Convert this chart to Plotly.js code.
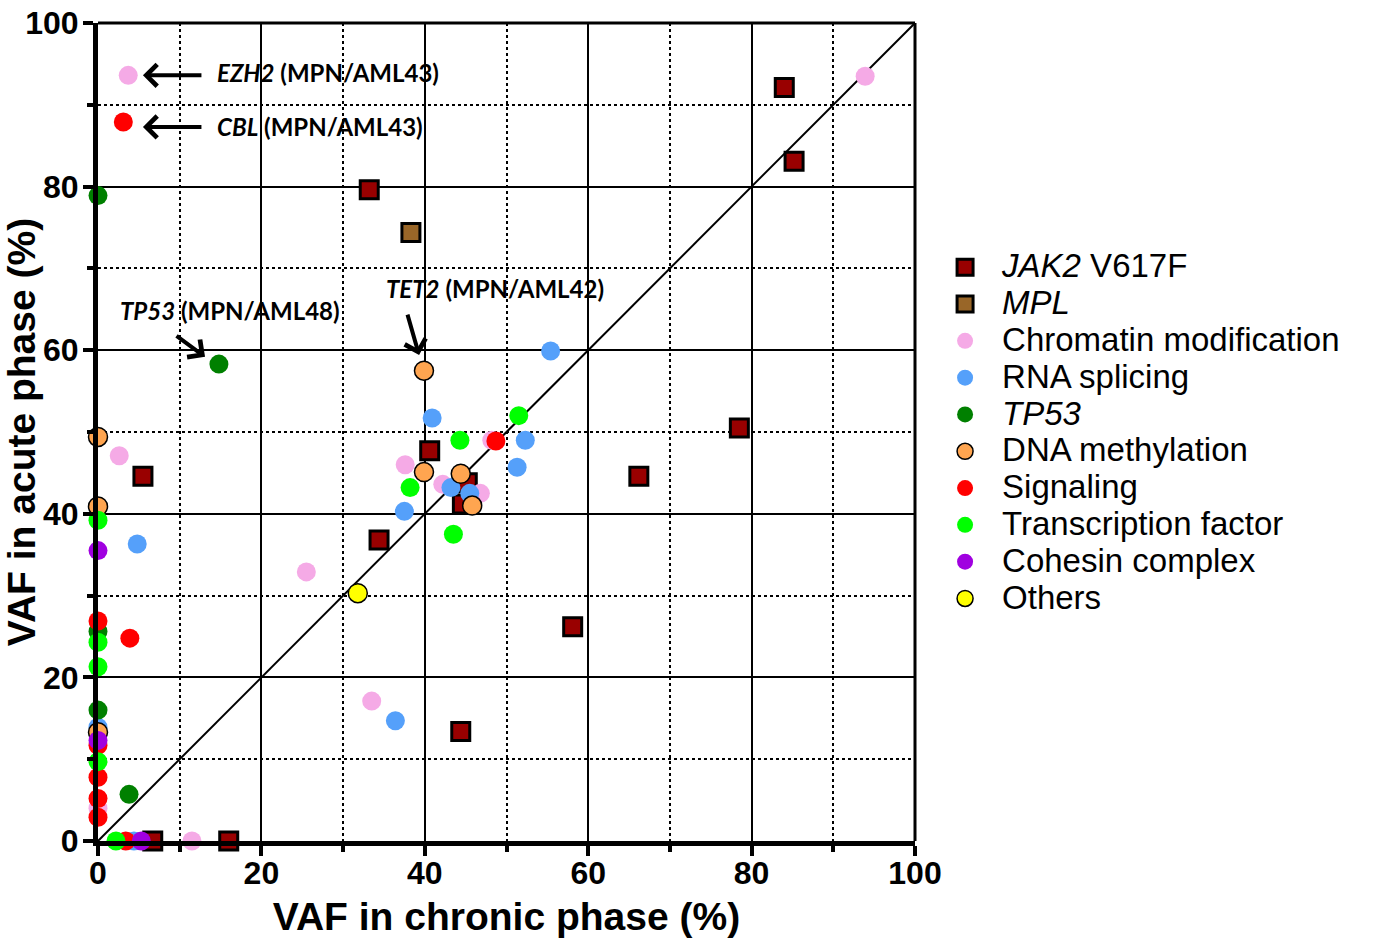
<!DOCTYPE html>
<html>
<head>
<meta charset="utf-8">
<script src="https://cdn.plot.ly/plotly-3.0.1.min.js"></script>
<style>html,body{margin:0;padding:0;background:#fff;}#chart{width:1376px;height:938px;}</style>
</head>
<body>
<div id="chart"></div>
<script>
// ---- data (VAF %, chronic phase -> acute phase) ----
const jak2X = [84.0, 85.2, 33.2, 5.5, 40.6, 34.4, 78.5, 66.2, 58.1, 44.4, 45.2, 44.6, 6.7, 16.0];
const jak2Y = [92.1, 83.1, 79.6, 44.6, 47.7, 36.8, 50.5, 44.6, 26.2, 13.4, 43.8, 41.2, 0, 0];
const mplX = [38.3];
const mplY = [74.4];
const chromX = [3.7, 93.9, 2.6, 25.5, 37.6, 33.5, 42.2, 46.8, 48.2, 11.5, 0];
const chromY = [93.6, 93.5, 47.1, 32.9, 46.0, 17.1, 43.6, 42.5, 49.0, 0, 4.0];
const rnaX = [55.4, 40.9, 51.3, 52.3, 37.5, 43.2, 45.5, 4.8, 36.4, 4.4, 0];
const rnaY = [59.9, 51.7, 45.7, 49.0, 40.3, 43.2, 42.5, 36.3, 14.7, 0, 13.9];
const tp53X = [0, 14.8, 0, 3.8, 0];
const tp53Y = [78.9, 58.3, 16.0, 5.7, 25.6];
const dnaX = [0, 0, 39.9, 39.9, 44.4, 45.8, 0];
const dnaY = [49.4, 40.9, 57.5, 45.1, 44.9, 41.0, 13.3];
const sigX = [3.1, 48.7, 3.9, 0, 0, 0, 0, 0, 3.4];
const sigY = [87.9, 48.9, 24.8, 26.9, 11.7, 7.8, 5.2, 2.9, 0];
const tfX = [44.3, 51.5, 38.2, 43.5, 0, 0, 0, 0, 2.2];
const tfY = [49.0, 52.0, 43.2, 37.5, 39.2, 24.3, 21.3, 9.7, 0];
const cohX = [0, 0, 5.3];
const cohY = [35.5, 12.3, 0];
const othX = [31.8];
const othY = [30.3];

const seriesNames = ['<i>JAK2</i> V617F', '<i>MPL</i>', 'Chromatin modification', 'RNA splicing',
  '<i>TP53</i>', 'DNA methylation', 'Signaling', 'Transcription factor', 'Cohesin complex', 'Others'];
const tickVals = [0, 20, 40, 60, 80, 100];
const tickText = ['0', '20', '40', '60', '80', '100'];

// ---- styling ----
const legendSpan = s => '<span style="font-size:33px">' + s + '</span>';
function sq(x, y, name, color) {
  return {x, y, name: legendSpan(name), type: 'scatter', mode: 'markers', cliponaxis: false,
    marker: {symbol: 'square', size: 18, color, line: {color: '#000', width: 3}}};
}
function ci(x, y, name, color, outline) {
  return {x, y, name: legendSpan(name), type: 'scatter', mode: 'markers', cliponaxis: false,
    marker: {symbol: 'circle', size: 19, color, line: {color: '#000', width: outline ? 1.5 : 0}}};
}
const data = [
  sq(jak2X, jak2Y, seriesNames[0], '#990000'),
  sq(mplX, mplY, seriesNames[1], '#996628'),
  ci(chromX, chromY, seriesNames[2], '#F5AAE6', false),
  ci(rnaX, rnaY, seriesNames[3], '#55A0FA', false),
  ci(tp53X, tp53Y, seriesNames[4], '#008000', false),
  ci(dnaX, dnaY, seriesNames[5], '#FFA550', true),
  ci(sigX, sigY, seriesNames[6], '#FF0000', false),
  ci(tfX, tfY, seriesNames[7], '#00FF00', false),
  ci(cohX, cohY, seriesNames[8], '#A000E0', false),
  ci(othX, othY, seriesNames[9], '#FFFF00', true)
];

const tickFont = {family: '"Liberation Sans", Arial, sans-serif', size: 32, color: '#000', weight: 'bold'};
const titleFont = {family: '"Liberation Sans", Arial, sans-serif', size: 39, color: '#000', weight: 'bold'};
function axis(title, standoff) {
  return {
    range: [0, 100], autorange: false, tickvals: tickVals, ticktext: tickText,
    tickfont: tickFont, ticks: 'outside', ticklen: 10, tickwidth: 4, tickcolor: '#000',
    ticklabelstandoff: standoff,
    showline: true, linewidth: 5, linecolor: '#000', zeroline: false,
    showgrid: true, gridcolor: '#000', gridwidth: 2,
    minor: {dtick: 10, tick0: 0, showgrid: true, griddash: 'dot', gridcolor: '#000', gridwidth: 2,
            ticks: 'outside', ticklen: 6, tickwidth: 4, tickcolor: '#000'},
    title: {text: title, font: titleFont},
    fixedrange: true
  };
}
const annFont = {family: 'Lato, "Open Sans", sans-serif', size: 24, color: '#000', weight: 'bold'};
function arrow(x, y, ax, ay) {
  return {x, y, ax, ay, xref: 'x', yref: 'y', text: '', showarrow: true, arrowhead: 4,
    arrowsize: 1.05, arrowwidth: 4, arrowcolor: '#000', standoff: 0};
}
function label(x, y, text) {
  return {x, y, xref: 'x', yref: 'y', text, showarrow: false, xanchor: 'left', yanchor: 'middle', font: annFont};
}
const layout = {
  width: 1376, height: 938,
  margin: {l: 98, r: 461, t: 23, b: 97},
  paper_bgcolor: '#fff', plot_bgcolor: '#fff',
  xaxis: axis('VAF in chronic phase (%)', -10),
  yaxis: axis('VAF in acute phase (%)', -2),
  showlegend: true,
  legend: {x: 1.016, y: 0.73, xanchor: 'left', yanchor: 'top', font: {family: '"Liberation Sans", Arial, sans-serif', size: 26, color: '#000'},
    itemwidth: 64, bgcolor: 'rgba(0,0,0,0)', tracegroupgap: 0},
  shapes: [
    {type: 'line', xref: 'x', yref: 'y', x0: 0, y0: 0, x1: 100, y1: 100, line: {color: '#000', width: 2}, layer: 'below'},
    {type: 'line', xref: 'paper', yref: 'paper', x0: 0, y0: 1, x1: 1, y1: 1, line: {color: '#000', width: 3}},
    {type: 'line', xref: 'paper', yref: 'paper', x0: 1, y0: 0, x1: 1, y1: 1, line: {color: '#000', width: 3}}
  ],
  annotations: [
    arrow(5.5, 93.6, 60, 0),
    arrow(5.5, 87.3, 60, 0),
    arrow(13.1, 59.2, -30, -22),
    arrow(39.3, 59.4, -12, -42),
    label(14.3, 93.9, '<i>EZH2</i> (MPN/AML43)'),
    label(14.3, 87.4, '<i>CBL</i> (MPN/AML43)'),
    label(2.5, 64.9, '<i>TP53</i> (MPN/AML48)'),
    label(35.0, 67.5, '<i>TET2</i> (MPN/AML42)')
  ]
};
Plotly.newPlot('chart', data, layout, {displayModeBar: false, staticPlot: true});
</script>
</body>
</html>
